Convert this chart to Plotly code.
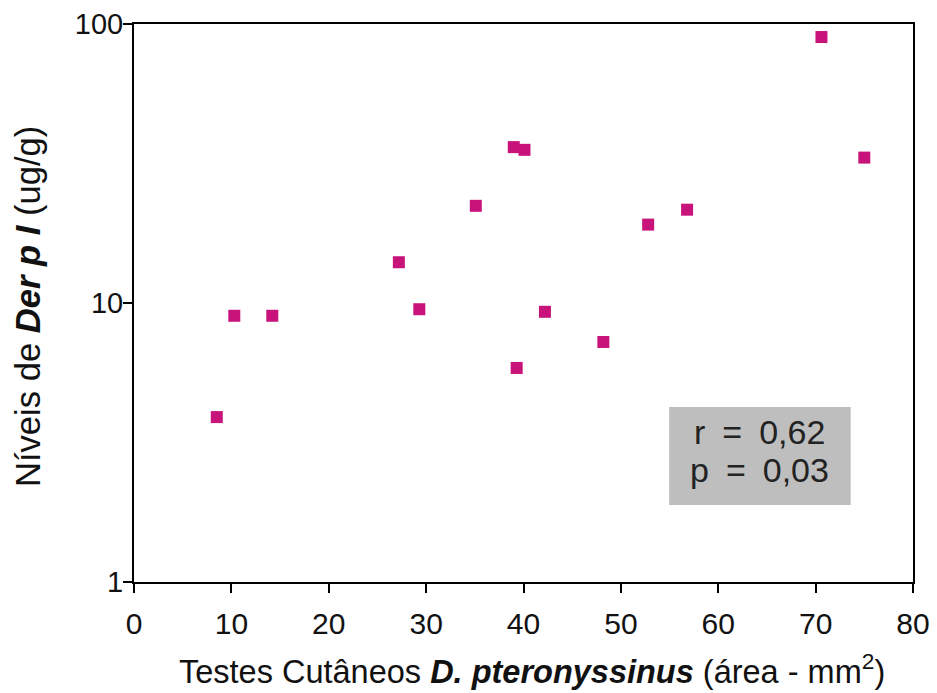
import plotly.graph_objects as go

# Data
skin_test_area = [8.5, 10.3, 14.2, 27.2, 29.3, 35.1, 39.0, 40.1, 39.3, 42.2, 48.2, 52.8, 56.8, 70.6, 75.0]
der_p_levels = [3.9, 9.0, 9.0, 14.0, 9.5, 22.3, 36.2, 35.4, 5.85, 9.3, 7.25, 19.1, 21.6, 89.8, 33.2]
x_ticks = [0, 10, 20, 30, 40, 50, 60, 70, 80]
y_ticks = [1, 10, 100]
y_tick_labels = ["1", "10", "100"]
stats_text = ["r\u2002=\u20020,62", "p\u2002=\u20020,03"]
x_title = "Testes Cutâneos <b><i>D. pteronyssinus</i></b> (área - mm<sup>2</sup>)"
y_title = "Níveis de <b><i>Der p I</i></b> (ug/g)"

SANS = "Liberation Sans, Arial, Helvetica, sans-serif"

fig = go.Figure()
fig.add_trace(go.Scatter(
    x=skin_test_area, y=der_p_levels, mode="markers",
    marker=dict(symbol="square", size=12, color="#C8147A", line=dict(width=0)),
    showlegend=False, hoverinfo="x+y",
))

fig.update_layout(
    width=937, height=693,
    margin=dict(l=126, r=32, t=16, b=119),
    paper_bgcolor="white", plot_bgcolor="white",
    font=dict(family=SANS, color="#111111"),
)

fig.update_xaxes(
    range=[0, 80], tickvals=x_ticks, ticktext=[str(v) for v in x_ticks],
    showgrid=False, zeroline=False, automargin=False,
    showline=True, linecolor="black", linewidth=2, mirror=True,
    ticks="outside", ticklen=9, tickwidth=1.5, tickcolor="black",
    ticklabelstandoff=5, ticklabeloverflow="allow",
    tickfont=dict(size=30, family=SANS, color="#111111"),
)
fig.update_yaxes(
    type="log", range=[0, 2], tickvals=y_ticks, ticktext=y_tick_labels,
    showgrid=False, zeroline=False, automargin=False,
    showline=True, linecolor="black", linewidth=2, mirror=True,
    ticks="outside", ticklen=9, tickwidth=1.5, tickcolor="black",
    ticklabelstandoff=-6, ticklabeloverflow="allow",
    tickfont=dict(size=29, family=SANS, color="#111111"),
)

# Axis titles as annotations for precise placement
fig.add_annotation(xref="paper", yref="paper", x=0, y=0.5, xshift=-106, yshift=-4,
                   text=y_title, textangle=-90, showarrow=False,
                   xanchor="center", yanchor="middle",
                   font=dict(size=34.6, family=SANS, color="#111111"))
fig.add_annotation(xref="paper", yref="paper", x=0.5, y=0, xshift=8, yshift=-87,
                   text=x_title, showarrow=False,
                   xanchor="center", yanchor="middle",
                   font=dict(size=32.5, family=SANS, color="#111111"))

# Stats box
fig.add_shape(type="rect", xref="paper", yref="paper",
              x0=0.687, x1=0.920, y0=0.138, y1=0.3135,
              fillcolor="#BEBEBE", line=dict(width=0), layer="below")
for txt, yp in zip(stats_text, [0.269, 0.201]):
    fig.add_annotation(xref="paper", yref="paper", x=0.8035, y=yp,
                       text=txt, showarrow=False,
                       xanchor="center", yanchor="middle",
                       font=dict(size=34, family=SANS, color="#222222"))

fig.write_html("out.html")
